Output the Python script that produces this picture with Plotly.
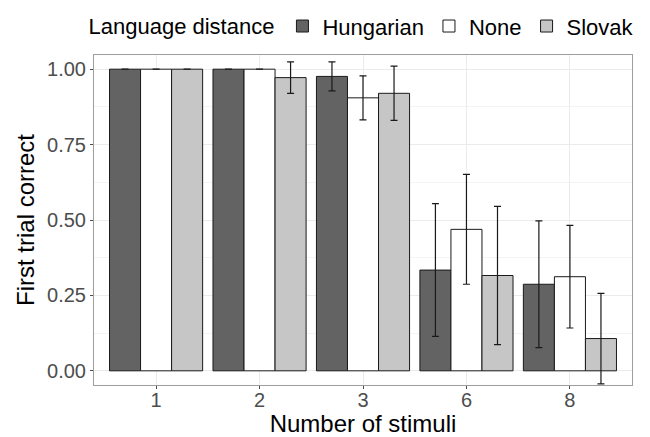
import plotly.graph_objects as go

categories = ["1", "2", "3", "6", "8"]
series_names = ["Hungarian", "None", "Slovak"]
hungarian = [1.0, 1.0, 0.976, 0.334, 0.287]
none_vals = [1.0, 1.0, 0.905, 0.469, 0.312]
slovak = [1.0, 0.972, 0.92, 0.316, 0.107]
hungarian_err = [None, None, 0.048, 0.22, 0.21]
none_err = [None, None, 0.073, 0.182, 0.17]
slovak_err = [None, 0.052, 0.09, 0.229, 0.15]
y_ticks = [0.0, 0.25, 0.5, 0.75, 1.0]
y_tick_labels = ["0.00", "0.25", "0.50", "0.75", "1.00"]

colors = ["#636363", "#ffffff", "#c6c6c6"]
values = [hungarian, none_vals, slovak]
errs = [hungarian_err, none_err, slovak_err]

fig = go.Figure()
for name, vals, err, col in zip(series_names, values, errs, colors):
    fig.add_trace(go.Bar(
        x=categories, y=vals, name=name,
        marker=dict(color=col, line=dict(color="#1a1a1a", width=1)),
        error_y=dict(type="data", array=err, visible=True,
                     color="#1a1a1a", thickness=1.2, width=3.5),
    ))

fig.update_layout(
    width=650, height=437,
    margin=dict(l=94, r=18, t=55, b=52, autoexpand=False),
    paper_bgcolor="white", plot_bgcolor="white",
    barmode="group", bargap=0.1, bargroupgap=0,
    font=dict(family="Liberation Sans, Arial, sans-serif", color="black"),
    legend=dict(
        orientation="h", x=0.5, xanchor="center", y=0.94, yanchor="middle",
        yref="container",
        title=dict(text="Language distance", side="left", font=dict(size=22)),
        font=dict(size=22), itemwidth=30, traceorder="normal",
    ),
    xaxis=dict(
        title=dict(text="Number of stimuli", font=dict(size=24), standoff=1),
        automargin=True,
        tickfont=dict(size=20, color="#4d4d4d"),
        ticklabelposition="outside", ticklabelstandoff=-6,
        showgrid=True, gridcolor="#ebebeb", gridwidth=1,
        showline=True, linecolor="#9e9e9e", linewidth=1, mirror=True,
        ticks="outside", ticklen=3, tickcolor="#4d4d4d",
        range=[-0.6, 4.6],
    ),
    yaxis=dict(
        title=dict(text="First trial correct", font=dict(size=24), standoff=5),
        automargin=True,
        tickfont=dict(size=20, color="#4d4d4d"),
        tickvals=y_ticks, ticktext=y_tick_labels,
        showgrid=True, gridcolor="#ebebeb", gridwidth=1,
        minor=dict(tickvals=[0.125, 0.375, 0.625, 0.875], showgrid=True,
                   gridcolor="#f4f4f4", gridwidth=1),
        showline=True, linecolor="#9e9e9e", linewidth=1, mirror=True,
        ticks="outside", ticklen=3, tickcolor="#4d4d4d",
        range=[-0.047, 1.047], zeroline=False,
    ),
)

fig.write_html("out.html")
